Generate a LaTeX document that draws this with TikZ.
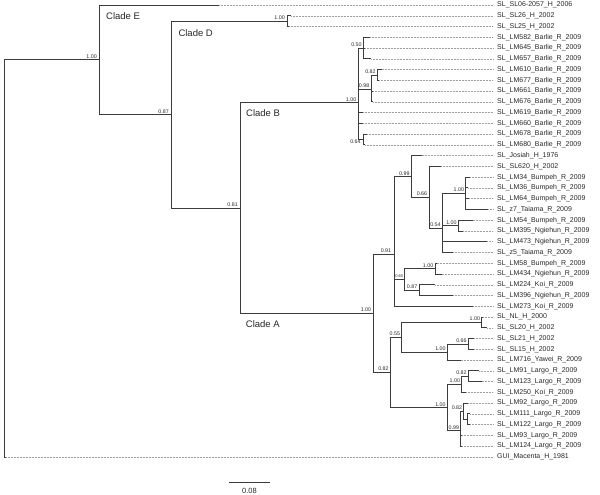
\documentclass[tikz,border=0pt]{standalone}
\usepackage{fontspec}
\newfontfamily\arialf{Liberation Sans}
\definecolor{brc}{RGB}{60,60,60}
\definecolor{txc}{RGB}{40,40,40}
\begin{document}
\begin{tikzpicture}[x=1pt,y=-1pt,
  br/.style={draw=brc,line width=0.9pt},
  dotl/.style={draw=gray!75,line width=0.45pt,dash pattern=on 0.6pt off 0.9pt},
  leaflab/.style={anchor=west,inner xsep=4pt,inner ysep=0pt,text=txc,font=\arialf\fontsize{7}{8}\selectfont},
  supp/.style={anchor=south east,inner sep=0pt,text=txc,font=\arialf\fontsize{5.3}{6}\selectfont},
  cladelab/.style={anchor=west,inner sep=0pt,text=black!85,font=\arialf\fontsize{9.5}{11}\selectfont}]
\useasboundingbox (0,0) rectangle (600,495);
% internal nodes
\coordinate (root) at (4,258.4);
\coordinate (nTop) at (99,59.8);
\coordinate (nDAB) at (171,114.6);
\coordinate (nD) at (287,21.2);
\coordinate (nBA) at (240,208);
\coordinate (nB) at (358.5,102.6);
\coordinate (n050) at (363.3,48);
\coordinate (n098) at (371,89.3);
\coordinate (n082b) at (377.3,75);
\coordinate (n064) at (363.3,139.5);
\coordinate (nA) at (373.3,313.3);
\coordinate (n091) at (394.3,254.1);
\coordinate (n099) at (411.7,176.5);
\coordinate (n066) at (429.3,197.3);
\coordinate (n054) at (442.3,228.3);
\coordinate (n100a) at (465.7,193.3);
\coordinate (n100b) at (458.3,225.6);
\coordinate (n060) at (404.3,279.4);
\coordinate (n100c) at (435,268.6);
\coordinate (n087) at (419,290.2);
\coordinate (n082a) at (390.3,372.4);
\coordinate (n055) at (401.7,337.2);
\coordinate (n100d) at (481.7,322.4);
\coordinate (n100e) at (447.3,352);
\coordinate (n066b) at (468.3,344);
\coordinate (n100f) at (447.3,407.6);
\coordinate (n100g) at (461.7,384.3);
\coordinate (n082c) at (468.3,376.2);
\coordinate (n099b) at (460.7,430.9);
\coordinate (n082d) at (463.3,411.2);
\coordinate (nX) at (467.7,419.3);
% internal edges
\draw[br] (root) |- (nTop);
\draw[br] (nTop) |- (nDAB);
\draw[br] (nDAB) |- (nD);
\draw[br] (nDAB) |- (nBA);
\draw[br] (nBA) |- (nB);
\draw[br] (nBA) |- (nA);
\draw[br] (nB) |- (n050);
\draw[br] (nB) |- (n098);
\draw[br] (nB) |- (n064);
\draw[br] (n098) |- (n082b);
\draw[br] (nA) |- (n091);
\draw[br] (nA) |- (n082a);
\draw[br] (n091) |- (n099);
\draw[br] (n091) |- (n060);
\draw[br] (n099) |- (n066);
\draw[br] (n066) |- (n054);
\draw[br] (n054) |- (n100a);
\draw[br] (n054) |- (n100b);
\draw[br] (n060) |- (n100c);
\draw[br] (n060) |- (n087);
\draw[br] (n082a) |- (n055);
\draw[br] (n082a) |- (n100f);
\draw[br] (n055) |- (n100d);
\draw[br] (n055) |- (n100e);
\draw[br] (n100e) |- (n066b);
\draw[br] (n100f) |- (n100g);
\draw[br] (n100f) |- (n099b);
\draw[br] (n100g) |- (n082c);
\draw[br] (n099b) |- (n082d);
\draw[br] (n082d) |- (nX);
% leaves
\newcommand\leafrow[5]{%
  \coordinate (t#1) at (#4,#2);
  \node[leaflab] (l#1) at (493,#2) {#5};
  \draw[br] (#3) |- (t#1);
  \draw[dotl] (t#1) -- (l#1.west);}
\leafrow{0}{5}{nTop}{219}{SL\_SL06-2057\_H\_2006}
\leafrow{1}{15.8}{nD}{291}{SL\_SL26\_H\_2002}
\leafrow{2}{26.5}{nD}{289}{SL\_SL25\_H\_2002}
\leafrow{3}{37.3}{n050}{370}{SL\_LM582\_Barlie\_R\_2009}
\leafrow{4}{48}{n050}{365}{SL\_LM645\_Barlie\_R\_2009}
\leafrow{5}{58.8}{n050}{371}{SL\_LM657\_Barlie\_R\_2009}
\leafrow{6}{69.6}{n082b}{381.7}{SL\_LM610\_Barlie\_R\_2009}
\leafrow{7}{80.3}{n082b}{379.3}{SL\_LM677\_Barlie\_R\_2009}
\leafrow{8}{91.1}{n098}{373}{SL\_LM661\_Barlie\_R\_2009}
\leafrow{9}{101.8}{n098}{373}{SL\_LM676\_Barlie\_R\_2009}
\leafrow{10}{112.6}{nB}{363}{SL\_LM619\_Barlie\_R\_2009}
\leafrow{11}{123.4}{nB}{363.3}{SL\_LM660\_Barlie\_R\_2009}
\leafrow{12}{134.1}{n064}{367}{SL\_LM678\_Barlie\_R\_2009}
\leafrow{13}{144.9}{n064}{365}{SL\_LM680\_Barlie\_R\_2009}
\leafrow{14}{155.6}{n099}{421.7}{SL\_Josiah\_H\_1976}
\leafrow{15}{166.4}{n066}{441}{SL\_SL620\_H\_2002}
\leafrow{16}{177.2}{n100a}{470}{SL\_LM34\_Bumpeh\_R\_2009}
\leafrow{17}{187.9}{n100a}{468}{SL\_LM36\_Bumpeh\_R\_2009}
\leafrow{18}{198.7}{n100a}{469}{SL\_LM64\_Bumpeh\_R\_2009}
\leafrow{19}{209.4}{n100a}{488}{SL\_z7\_Taiama\_R\_2009}
\leafrow{20}{220.2}{n100b}{472.7}{SL\_LM54\_Bumpeh\_R\_2009}
\leafrow{21}{231}{n100b}{463.3}{SL\_LM395\_Ngiehun\_R\_2009}
\leafrow{22}{241.7}{n054}{487.3}{SL\_LM473\_Ngiehun\_R\_2009}
\leafrow{23}{252.5}{n054}{453}{SL\_z5\_Taiama\_R\_2009}
\leafrow{24}{263.2}{n100c}{436.5}{SL\_LM58\_Bumpeh\_R\_2009}
\leafrow{25}{274}{n100c}{441.7}{SL\_LM434\_Ngiehun\_R\_2009}
\leafrow{26}{284.8}{n087}{435}{SL\_LM224\_Koi\_R\_2009}
\leafrow{27}{295.5}{n087}{453.3}{SL\_LM396\_Ngiehun\_R\_2009}
\leafrow{28}{306.3}{n091}{473.3}{SL\_LM273\_Koi\_R\_2009}
\leafrow{29}{317}{n100d}{483}{SL\_NL\_H\_2000}
\leafrow{30}{327.8}{n100d}{487.3}{SL\_SL20\_H\_2002}
\leafrow{31}{338.6}{n066b}{474}{SL\_SL21\_H\_2002}
\leafrow{32}{349.3}{n066b}{474}{SL\_SL15\_H\_2002}
\leafrow{33}{360.1}{n100e}{460.7}{SL\_LM716\_Yawei\_R\_2009}
\leafrow{34}{370.8}{n082c}{479}{SL\_LM91\_Largo\_R\_2009}
\leafrow{35}{381.6}{n082c}{481.7}{SL\_LM123\_Largo\_R\_2009}
\leafrow{36}{392.4}{n100g}{466}{SL\_LM250\_Koi\_R\_2009}
\leafrow{37}{403.1}{n082d}{468}{SL\_LM92\_Largo\_R\_2009}
\leafrow{38}{413.9}{nX}{470}{SL\_LM111\_Largo\_R\_2009}
\leafrow{39}{424.6}{nX}{470}{SL\_LM122\_Largo\_R\_2009}
\leafrow{40}{435.4}{n099b}{462}{SL\_LM93\_Largo\_R\_2009}
\leafrow{41}{446.2}{n099b}{462}{SL\_LM124\_Largo\_R\_2009}
\leafrow{42}{457}{root}{6}{GUI\_Macenta\_H\_1981}
% support values
\node[supp] (sTop) at ([shift={(-2,-1.2)}]nTop) {1.00};
\node[supp] (sDAB) at ([shift={(-2,-1.2)}]nDAB) {0.87};
\node[supp] (sD) at ([shift={(-2,-1.2)}]nD) {1.00};
\node[supp] (sBA) at ([shift={(-2,-1.2)}]nBA) {0.81};
\node[supp] (sB) at ([shift={(-2,-1.2)}]nB) {1.00};
\node[supp] (s050) at ([shift={(-1.5,-1.2)}]n050) {0.50};
\node[supp] (s098) at ([shift={(-1.5,-1.2)}]n098) {0.98};
\node[supp] (s082b) at ([shift={(-1.5,-1.2)}]n082b) {0.82};
\node[supp,anchor=north east] (s064) at ([shift={(-2.5,0.5)}]n064) {0.64};
\node[supp] (sA) at ([shift={(-2,-1.2)}]nA) {1.00};
\node[supp] (s091) at ([shift={(-3,-1.2)}]n091) {0.91};
\node[supp] (s099) at ([shift={(-2,-1.2)}]n099) {0.99};
\node[supp] (s066) at ([shift={(-2,-1.2)}]n066) {0.66};
\node[supp] (s054) at ([shift={(-1.5,-1.2)}]n054) {0.54};
\node[supp] (s100a) at ([shift={(-1.5,-1.2)}]n100a) {1.00};
\node[supp] (s100b) at ([shift={(-1.5,-1.2)}]n100b) {1.00};
\node[supp,font=\arialf\fontsize{4}{5}\selectfont] (s060) at ([shift={(-1,-1.2)}]n060) {0.60};
\node[supp] (s100c) at ([shift={(-1.5,-1.2)}]n100c) {1.00};
\node[supp] (s087) at ([shift={(-1.5,-1.2)}]n087) {0.87};
\node[supp] (s082a) at ([shift={(-1.5,-1.2)}]n082a) {0.82};
\node[supp] (s055) at ([shift={(-1.5,-1.2)}]n055) {0.55};
\node[supp] (s100d) at ([shift={(-1.5,-1.2)}]n100d) {1.00};
\node[supp] (s100e) at ([shift={(-1.5,-1.2)}]n100e) {1.00};
\node[supp] (s066b) at ([shift={(-1.5,-1.2)}]n066b) {0.66};
\node[supp] (s100f) at ([shift={(-1.5,-1.2)}]n100f) {1.00};
\node[supp] (s100g) at ([shift={(-1.5,-1.2)}]n100g) {1.00};
\node[supp] (s082c) at ([shift={(-1.5,-1.2)}]n082c) {0.82};
\node[supp] (s099b) at ([shift={(-1.5,-1.2)}]n099b) {0.99};
\node[supp] (s082d) at ([shift={(-1,-1.2)}]n082d) {0.82};
% clade labels
\node[cladelab] (cE) at (106,16) {Clade E};
\node[cladelab] (cD) at (178.3,33.3) {Clade D};
\node[cladelab] (cB) at (246,113.5) {Clade B};
\node[cladelab] (cA) at (245.7,324.3) {Clade A};
% scale bar
\coordinate (sb1) at (229,482.7);
\coordinate (sb2) at (270,482.7);
\draw[br] (sb1) -- (sb2);
\node[inner sep=0pt,text=txc,font=\arialf\fontsize{7.5}{8}\selectfont] (sbl) at (249.5,490.5) {0.08};
\end{tikzpicture}
\end{document}
